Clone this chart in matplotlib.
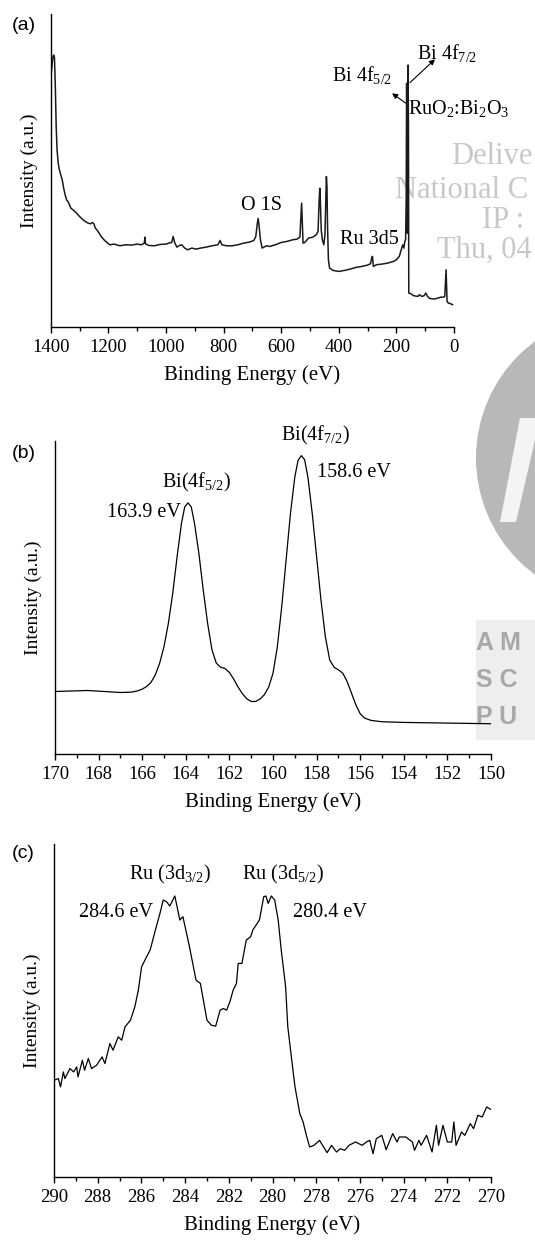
import numpy as np
import matplotlib
matplotlib.use("Agg")
import matplotlib.pyplot as plt
from matplotlib.patches import Ellipse, Polygon, Rectangle

plt.rcParams['font.family'] = ['Liberation Serif', 'DejaVu Serif']
plt.rcParams['mathtext.fontset'] = 'custom'
plt.rcParams['mathtext.rm'] = 'Liberation Serif'
plt.rcParams['mathtext.it'] = 'Liberation Serif'
plt.rcParams['mathtext.bf'] = 'Liberation Serif:bold'

# (a) survey spectrum: binding energy (eV), intensity (a.u.)
survey_e = [1400, 1397, 1393, 1390, 1387, 1384, 1381, 1378, 1374, 1370, 1365, 1360, 1355,
            1350, 1345, 1340, 1335, 1330, 1320, 1310, 1300, 1290, 1280, 1270, 1262, 1255,
            1250, 1245, 1240, 1232, 1225, 1215, 1205, 1195, 1180, 1160, 1140, 1120, 1100,
            1085, 1075, 1073, 1071, 1060, 1040, 1020, 1000, 990, 980, 975, 970, 962, 955,
            945, 935, 925, 910, 895, 880, 860, 840, 820, 812, 806, 790, 770, 750, 730, 710,
            695, 688, 683, 680, 677, 672, 666, 660, 650, 640, 620, 600, 580, 560, 545, 535,
            531, 529, 527, 524, 518, 505, 490, 478, 472, 468, 466, 464, 461, 457, 452, 448,
            445, 443, 441, 439, 436, 432, 420, 400, 380, 360, 340, 320, 300, 290, 285, 283,
            280, 270, 250, 230, 210, 200, 190, 183, 178, 174, 171, 168, 166, 164.5, 163, 162,
            161, 159.5, 158, 157, 150, 140, 125, 120, 112, 104, 98, 92, 85, 70, 55, 45, 38,
            32, 29, 27.5, 26, 24, 20, 12, 5]
survey_i = [747, 772, 807, 817, 810, 722, 602, 532, 492, 472, 457, 442, 417,
            397, 382, 377, 367, 357, 350, 342, 332, 324, 317, 312, 310, 314,
            310, 297, 292, 282, 272, 262, 254, 247, 249, 244, 247, 246, 249,
            247, 252, 270, 250, 245, 244, 248, 249, 252, 254, 272, 254, 240, 244,
            247, 237, 232, 237, 234, 237, 240, 244, 247, 260, 247, 244, 244, 247, 252, 255,
            260, 272, 310, 326, 307, 262, 237, 240, 244, 242, 247, 254, 257, 262, 264, 270,
            342, 372, 322, 252, 254, 267, 270, 277, 287, 382, 417, 382, 292, 262, 247, 277,
            382, 452, 422, 302, 202, 177, 170, 167, 170, 174, 179, 182, 186, 190, 210, 212,
            182, 187, 189, 192, 197, 202, 212, 232, 247, 237, 257, 262, 382, 732, 582, 282,
            382, 787, 582, 102, 100, 94, 92, 97, 92, 94, 102, 92, 86, 84, 87, 90, 89,
            92, 142, 172, 132, 77, 72, 70, 67]

# (b) Bi 4f high-resolution
bi_e = [170, 169, 168.5, 168, 167.5, 167, 166.5, 166.2, 166, 165.8, 165.6, 165.4, 165.2,
        165.0, 164.8, 164.6, 164.4, 164.2, 164.05, 163.9, 163.75, 163.6, 163.4, 163.2,
        163.0, 162.8, 162.6, 162.4, 162.2, 162.0, 161.8, 161.6, 161.4, 161.2, 161.0, 160.8,
        160.6, 160.4, 160.2, 160.0, 159.8, 159.6, 159.4, 159.2, 159.0, 158.85, 158.7,
        158.55, 158.4, 158.2, 158.0, 157.8, 157.6, 157.4, 157.2, 157.0, 156.8, 156.6,
        156.4, 156.2, 156.0, 155.8, 155.5, 155.0, 154.0, 153.0, 152.0, 151.0, 150.0]
bi_i = [188, 190, 191, 189, 187, 185, 186, 190, 195, 203, 215, 238, 273,
        323, 393, 483, 593, 693, 743, 755, 743, 693, 603, 493,
        393, 313, 273, 261, 257, 245, 225, 201, 181, 166, 158, 158,
        165, 178, 201, 243, 323, 443, 583, 723, 833, 883, 897,
        885, 833, 723, 593, 463, 353, 283, 261, 253, 243, 218,
        183, 148, 121, 108, 101, 97, 95, 94, 93, 92, 91]

# (c) Ru 3d high-resolution
ru_e = [290.0, 289.8, 289.7, 289.57, 289.5, 289.27, 289.1, 288.96, 288.9, 288.7, 288.6,
        288.43, 288.28, 288.05, 287.8, 287.67, 287.44, 287.3, 287.06, 286.9, 286.75, 286.5,
        286.3, 286.14, 285.99, 285.76, 285.6, 285.38, 285.15, 285.0, 284.85, 284.7, 284.47,
        284.24, 284.1, 283.8, 283.5, 283.3, 283.0, 282.8, 282.6, 282.4, 282.25, 282.1,
        281.95, 281.8, 281.65, 281.57, 281.4, 281.2, 281.0, 280.9, 280.6, 280.4, 280.3,
        280.2, 280.05, 279.9, 279.74, 279.6, 279.4, 279.3, 279.1, 278.97, 278.75, 278.6,
        278.45, 278.3, 278.1, 277.85, 277.5, 277.3, 277.07, 276.9, 276.7, 276.5, 276.2,
        275.9, 275.7, 275.55, 275.4, 275.25, 275.0, 274.8, 274.5, 274.3, 274.2, 273.9,
        273.6, 273.5, 273.3, 273.2, 272.95, 272.7, 272.5, 272.4, 272.2, 272.0, 271.8,
        271.7, 271.6, 271.35, 271.2, 270.95, 270.8, 270.6, 270.4, 270.2, 270.0]
ru_i = [290, 295, 270, 315, 295, 325, 315, 330, 300, 350, 320,
        355, 325, 335, 360, 340, 400, 380, 420, 410, 450, 470,
        510, 560, 630, 660, 680, 735, 790, 830, 825, 812, 842,
        770, 780, 690, 590, 580, 470, 455, 452, 500, 505, 500,
        525, 560, 580, 640, 640, 710, 720, 740, 770, 840, 842,
        820, 842, 830, 770, 680, 570, 450, 340, 270, 190, 165,
        125, 90, 95, 110, 73, 95, 75, 85, 80, 95, 105,
        95, 105, 110, 70, 115, 125, 82, 130, 105, 120, 120,
        105, 80, 110, 95, 125, 75, 155, 95, 155, 105, 105,
        165, 95, 135, 125, 160, 145, 185, 180, 210, 202]

W, H = 535, 1242
fig = plt.figure(figsize=(W / 100, H / 100), dpi=100)


def px(x, y):
    # pixel position (from top-left) -> figure fraction
    return x / W, 1 - y / H


def style_axes(ax, xlim, ylim, major, minor):
    ax.set_facecolor('none')
    ax.set_xlim(*xlim)
    ax.set_ylim(*ylim)
    for s in ('top', 'right'):
        ax.spines[s].set_visible(False)
    for s in ('left', 'bottom'):
        ax.spines[s].set_linewidth(1.0)
    ax.set_yticks([])
    ax.set_xticks(np.arange(min(xlim), max(xlim) + minor / 2, major))
    ax.set_xticks(np.arange(min(xlim), max(xlim) + minor / 2, minor), minor=True)
    ax.tick_params(axis='x', which='major', direction='out', length=4.5, width=1.0,
                   labelsize=13.5, pad=4)
    ax.tick_params(axis='x', which='minor', direction='out', length=3, width=1.0)
    ax.set_xlabel('Binding Energy (eV)', fontsize=15, labelpad=7)
    ax.set_ylabel('Intensity (a.u.)', fontsize=14, labelpad=9)


FS = 14.5

# panel (a)
ax1 = fig.add_axes([0.0948, 0.7367, 0.7538, 0.2520])
ax1.plot(survey_e, survey_i, color='#1a1a1a', lw=1.1)
style_axes(ax1, (1400, 0), (0, 940), 200, 100)
ax1.text(129, 822, 'Bi 4f$_{7/2}$', fontsize=FS, va='center')
ax1.text(424, 757, 'Bi 4f$_{5/2}$', fontsize=FS, va='center')
ax1.text(160, 657, 'RuO$_2$:Bi$_2$O$_3$', fontsize=FS, va='center', clip_on=False)
ax1.text(667, 364, 'O 1S', fontsize=FS, va='center', ha='center')
ax1.text(396, 262, 'Ru 3d5', fontsize=FS, va='center')
ax1.annotate('', xy=(66, 804), xytext=(153, 734),
             arrowprops=dict(arrowstyle='-|>', lw=0.8, color='black', mutation_scale=8,
                             shrinkA=0, shrinkB=0))
ax1.annotate('', xy=(215, 702), xytext=(167, 672),
             arrowprops=dict(arrowstyle='-|>', lw=0.8, color='black', mutation_scale=8,
                             shrinkA=0, shrinkB=0))

# panel (b)
ax2 = fig.add_axes([0.1028, 0.3929, 0.8150, 0.2520])
ax2.plot(bi_e, bi_i, color='black', lw=0.9)
style_axes(ax2, (170, 150), (0, 941), 2, 1)
ax2.text(158.07, 958, 'Bi(4f$_{7/2}$)', fontsize=FS, va='center', ha='center', clip_on=False)
ax2.text(157.98, 847, '158.6 eV', fontsize=FS, va='center')
ax2.text(163.49, 817, 'Bi(4f$_{5/2}$)', fontsize=FS, va='center', ha='center')
ax2.text(167.61, 727, '163.9 eV', fontsize=FS, va='center')

# panel (c)
ax3 = fig.add_axes([0.1009, 0.0523, 0.8169, 0.2682])
ax3.plot(ru_e, ru_i, color='black', lw=0.9)
style_axes(ax3, (290, 270), (0, 998), 2, 1)
ax3.text(284.69, 905, 'Ru (3d$_{3/2}$)', fontsize=FS, va='center', ha='center')
ax3.text(279.52, 905, 'Ru (3d$_{5/2}$)', fontsize=FS, va='center', ha='center')
ax3.text(288.86, 794, '284.6 eV', fontsize=FS, va='center')
ax3.text(279.06, 794, '280.4 eV', fontsize=FS, va='center')

# panel letters
sans = ['Liberation Sans', 'DejaVu Sans']
for lab, yy in (('(a)', 25), ('(b)', 453), ('(c)', 853)):
    fig.text(*px(12, yy), lab, fontsize=14, va='center', family=sans)

# download watermark: only the part that shows inside the page
wm = '#c8c8c8'
for txt, x, y in (('Delive', 451, 157), ('National C', 395, 190),
                  ('IP :', 482, 220), ('Thu, 04', 437, 250)):
    fig.text(*px(x, y), txt, fontsize=22, color=wm, va='center', zorder=-1)

# publisher logo, half outside the page
cx, cy = px(621, 458)
fig.patches.append(Ellipse((cx, cy), 290 / W, 290 / H, transform=fig.transFigure,
                           facecolor='#b8b8b8', edgecolor='none', zorder=-3))
fig.patches.append(Polygon([px(520, 418), px(535, 418), px(535, 440), px(516, 522),
                            px(500, 522)], closed=True, transform=fig.transFigure,
                           facecolor='#f4f4f4', edgecolor='none', zorder=-2))
x0, y0 = px(476, 740)
fig.patches.append(Rectangle((x0, y0), 1 - x0, 120 / H, transform=fig.transFigure,
                             facecolor='#eeeeee', edgecolor='none', zorder=-3))
for txt, yy in (('A M', 643), ('S C', 680), ('P U', 717)):
    fig.text(*px(476, yy), txt, fontsize=18, color='#a8a8a8', va='center',
             weight='bold', family=sans, zorder=-1)

fig.savefig('out.png', dpi=100)
